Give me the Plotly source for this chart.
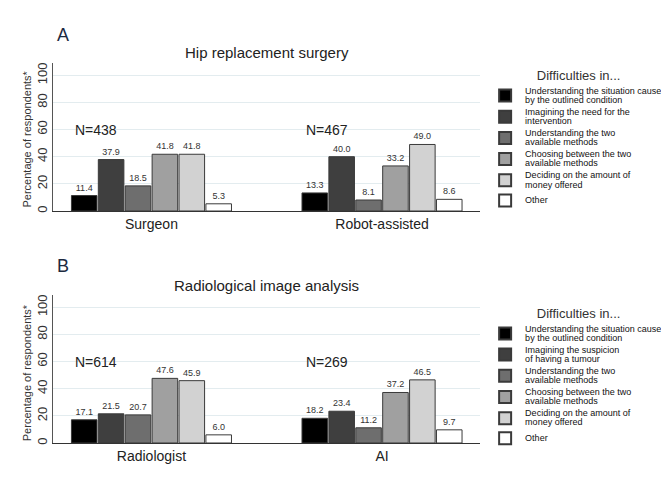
import plotly.graph_objects as go
from plotly.subplots import make_subplots

# Panel A: hip replacement surgery
groups_a = ["Surgeon", "Robot-assisted"]
n_a = [438, 467]
situation_a = [11.4, 13.3]
imagining_a = [37.9, 40.0]
understanding_a = [18.5, 8.1]
choosing_a = [41.8, 33.2]
money_a = [41.8, 49.0]
other_a = [5.3, 8.6]

# Panel B: radiological image analysis
groups_b = ["Radiologist", "AI"]
n_b = [614, 269]
situation_b = [17.1, 18.2]
imagining_b = [21.5, 23.4]
understanding_b = [20.7, 11.2]
choosing_b = [47.6, 37.2]
money_b = [45.9, 46.5]
other_b = [6.0, 9.7]

labels_a = [
    "Understanding the situation caused<br>by the outlined condition",
    "Imagining the need for the<br>intervention",
    "Understanding the two<br>available methods",
    "Choosing between the two<br>available methods",
    "Deciding on the amount of<br>money offered",
    "Other",
]
labels_b = [
    "Understanding the situation caused<br>by the outlined condition",
    "Imagining the suspicion<br>of having a tumour",
    "Understanding the two<br>available methods",
    "Choosing between the two<br>available methods",
    "Deciding on the amount of<br>money offered",
    "Other",
]
colors = ["#000000", "#3f3f3f", "#6e6e6e", "#a0a0a0", "#d2d2d2", "#ffffff"]

series_a = [situation_a, imagining_a, understanding_a, choosing_a, money_a, other_a]
series_b = [situation_b, imagining_b, understanding_b, choosing_b, money_b, other_b]

FONT = "Liberation Sans, Arial, sans-serif"


def legend_label(text):
    # larger glyphs inside a small base font keeps the line spacing tight
    return "<br>".join('<span style="font-size:9px">%s</span>' % part
                       for part in text.split("<br>"))


fig = make_subplots(rows=2, cols=1)

for row, groups, series, labels, leg in [
    (1, groups_a, series_a, labels_a, "legend"),
    (2, groups_b, series_b, labels_b, "legend2"),
]:
    for vals, name, col in zip(series, labels, colors):
        fig.add_trace(go.Bar(
            x=groups, y=vals, name=legend_label(name), legend=leg,
            marker=dict(color=col, line=dict(color="#3a3a3a", width=1)),
            texttemplate="%{y:.1f}", textposition="outside",
            textfont=dict(size=9, color="#333333", family=FONT),
            constraintext="none", cliponaxis=False,
        ), row=row, col=1)

# N annotations
for xa, ya, ns in [("x", "y", n_a), ("x2", "y2", n_b)]:
    for i, n in enumerate(ns):
        fig.add_annotation(x=i - 0.34, y=59.5, xref=xa, yref=ya, text="N=%d" % n,
                           showarrow=False, xanchor="left", yanchor="middle",
                           font=dict(size=14, color="#222222", family=FONT))

# panel letters, titles and y-axis titles
for letter, ty, title, tty, ymid in [("A", 1.075, "Hip replacement surgery", 1.027, 0.80),
                                     ("B", 0.465, "Radiological image analysis", 0.415, 0.185)]:
    fig.add_annotation(x=0.005, y=ty, xref="paper", yref="paper", text=letter,
                       showarrow=False, xanchor="left", yanchor="middle",
                       font=dict(size=18, color="#1c2a3f", family=FONT))
    fig.add_annotation(x=0.5, y=tty, xref="paper", yref="paper", text=title,
                       showarrow=False, xanchor="center", yanchor="middle",
                       font=dict(size=15, color="#222222", family=FONT))
    fig.add_annotation(x=-0.062, y=ymid, xref="paper", yref="paper",
                       text="Percentage of respondents*", textangle=-90,
                       showarrow=False, xanchor="center", yanchor="middle",
                       font=dict(size=11, color="#333333", family=FONT))

yaxis_style = dict(range=[0, 109], tickvals=[0, 20, 40, 60, 80, 100], tickangle=-90,
                   showgrid=True, gridcolor="#e3ecef", zeroline=False,
                   showline=True, linecolor="#555555", linewidth=1,
                   ticks="", automargin=False,
                   tickfont=dict(size=13, color="#333333", family=FONT))
xaxis_style = dict(range=[-0.427, 1.425], showline=True, linecolor="#333333", linewidth=1,
                   ticks="", automargin=False,
                   tickfont=dict(size=14, color="#222222", family=FONT))

legend_style = dict(xanchor="left", yanchor="top",
                    title=dict(text="Difficulties in...", side="top center",
                               font=dict(size=13, color="#333333", family=FONT)),
                    font=dict(size=7, color="#111111", family=FONT),
                    traceorder="normal", tracegroupgap=0, itemsizing="constant")

# the page body adds an 8px offset, so the figure is 8px smaller than the window
fig.update_layout(
    width=661, height=479,
    margin=dict(l=45, r=189, t=55, b=44, autoexpand=False),
    paper_bgcolor="white", plot_bgcolor="white",
    barmode="group", bargap=0.3, bargroupgap=0.05,
    font=dict(family=FONT),
    xaxis=dict(domain=[0, 1], anchor="y", **xaxis_style),
    xaxis2=dict(domain=[0, 1], anchor="y2", **xaxis_style),
    yaxis=dict(domain=[0.6105, 1.0], anchor="x", **yaxis_style),
    yaxis2=dict(domain=[0.0, 0.3895], anchor="x2", **yaxis_style),
    legend=dict(x=1.012, y=1.0, **legend_style),
    legend2=dict(x=1.012, y=0.374, **legend_style),
    showlegend=True,
)

fig.write_html("out.html")
